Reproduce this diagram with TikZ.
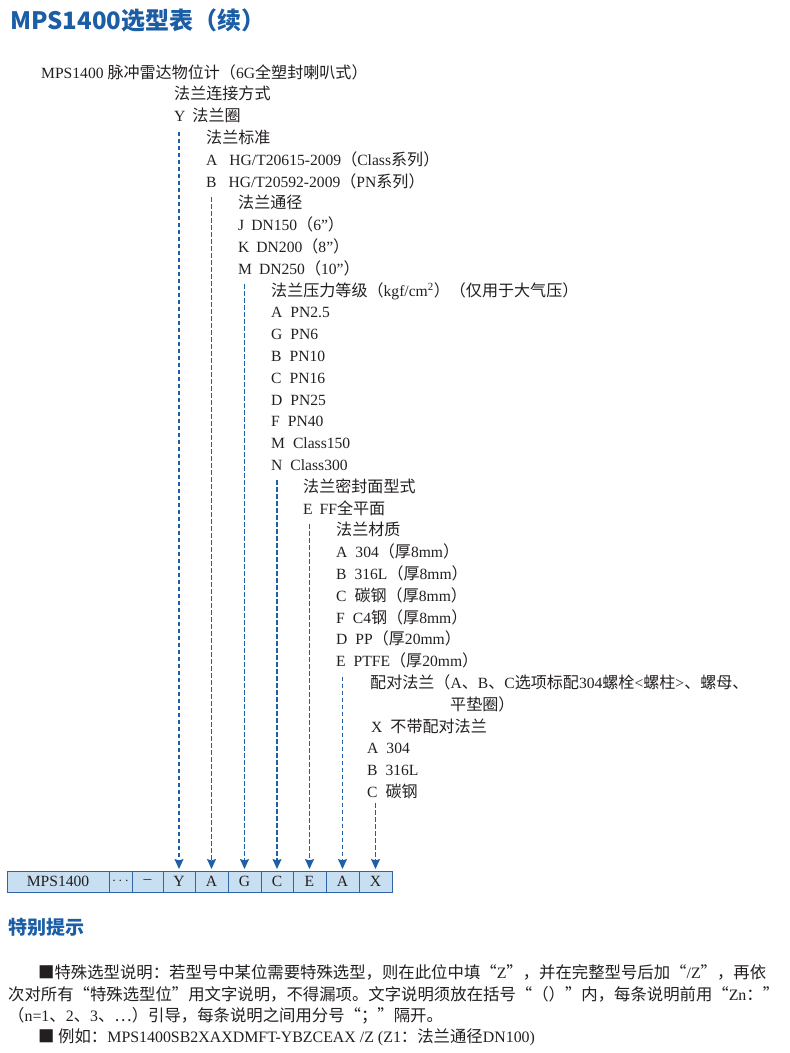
\documentclass[tikz,border=0pt]{standalone}
\usepackage{fontspec}
\setmainfont{Liberation Serif}
\newfontfamily\cjk[Scale=1.03]{Noto Sans CJK SC}
\newfontfamily\headfont{Noto Sans CJK SC}
\usetikzlibrary{arrows.meta, positioning}
\definecolor{titleblue}{HTML}{1B5EA6}
\definecolor{arrowblue}{HTML}{1F5FA8}
\definecolor{cellblue}{HTML}{C7DFF1}
\definecolor{cellline}{HTML}{2F65A6}
\definecolor{inkgray}{HTML}{231F20}
\newcommand{\zh}[1]{{\cjk #1}}

\begin{document}
\begin{tikzpicture}[x=1pt, y=1pt,
    line/.style={anchor=base west, inner sep=0pt, font=\fontsize{15.6}{18}\selectfont, text=inkgray},
    note/.style={anchor=base west, inner sep=0pt, font=\fontsize{15.9}{18}\selectfont, text=inkgray},
    head/.style={anchor=base west, inner sep=0pt, text=titleblue},
    cell/.style={draw=cellline, fill=cellblue, line width=0.9pt, minimum height=21pt, inner sep=0pt, outer sep=0pt, font=\fontsize{15.6}{18}\selectfont, text=inkgray},
    flow/.style={arrowblue, line width=1.5pt, dash pattern=on 4.5pt off 2.5pt, -{Stealth[length=10pt, width=9pt, inset=1.5pt]}, shorten >=2pt}
]
    \useasboundingbox (0,0) rectangle (790,-1053);

    % Title
    \node[head, font=\headfont\bfseries\fontsize{24}{28}\selectfont] (title) at (10,-29) {MPS1400选型表（续）};

    % Selection list
    \node[line] (model) at (41,-78) {MPS1400 \zh{脉冲雷达物位计（}6G\zh{全塑封喇叭式）}};
    \node[line] (conn) at (174,-99.8) {\zh{法兰连接方式}};
    \node[line] (optY) at (174,-121.6) {Y\hspace{7pt}\zh{法兰圈}};
    \node[line] (std) at (206,-143.4) {\zh{法兰标准}};
    \node[line] (stdA) at (206,-165.2) {A\hspace{12pt}HG/T20615-2009\zh{（}Class\zh{系列）}};
    \node[line] (stdB) at (206,-187) {B\hspace{12pt}HG/T20592-2009\zh{（}PN\zh{系列）}};
    \node[line] (dn) at (238,-208.8) {\zh{法兰通径}};
    \node[line] (dnJ) at (238,-230.6) {J\hspace{7pt}DN150\zh{（}6”\zh{）}};
    \node[line] (dnK) at (238,-252.4) {K\hspace{7pt}DN200\zh{（}8”\zh{）}};
    \node[line] (dnM) at (238,-274.2) {M\hspace{7pt}DN250\zh{（}10”\zh{）}};
    \node[line] (pn) at (271,-296) {\zh{法兰压力等级（}kgf/cm\textsuperscript{2}\zh{）（仅用于大气压）}};
    \node[line] (pnA) at (271,-317.8) {A\hspace{8pt}PN2.5};
    \node[line] (pnG) at (271,-339.6) {G\hspace{8pt}PN6};
    \node[line] (pnB) at (271,-361.4) {B\hspace{8pt}PN10};
    \node[line] (pnC) at (271,-383.2) {C\hspace{8pt}PN16};
    \node[line] (pnD) at (271,-405) {D\hspace{8pt}PN25};
    \node[line] (pnF) at (271,-426.8) {F\hspace{8pt}PN40};
    \node[line] (pnM) at (271,-448.6) {M\hspace{8pt}Class150};
    \node[line] (pnN) at (271,-470.4) {N\hspace{8pt}Class300};
    \node[line] (seal) at (303,-492.2) {\zh{法兰密封面型式}};
    \node[line] (sealE) at (303,-514) {E\hspace{7pt}FF\zh{全平面}};
    \node[line] (mat) at (336,-535.8) {\zh{法兰材质}};
    \node[line] (matA) at (336,-557.6) {A\hspace{8pt}304\zh{（厚}8mm\zh{）}};
    \node[line] (matB) at (336,-579.4) {B\hspace{8pt}316L\zh{（厚}8mm\zh{）}};
    \node[line] (matC) at (336,-601.2) {C\hspace{8pt}\zh{碳钢（厚}8mm\zh{）}};
    \node[line] (matF) at (336,-623) {F\hspace{8pt}C4\zh{钢（厚}8mm\zh{）}};
    \node[line] (matD) at (336,-644.8) {D\hspace{8pt}PP\zh{（厚}20mm\zh{）}};
    \node[line] (matE) at (336,-666.6) {E\hspace{8pt}PTFE\zh{（厚}20mm\zh{）}};
    \node[line] (pair) at (370,-688.4) {\zh{配对法兰（}A\zh{、}B\zh{、}C\zh{选项标配}304\zh{螺栓}<\zh{螺柱}>\zh{、螺母、}};
    \node[line] (pair2) at (450,-710.2) {\zh{平垫圈）}};
    \node[line] (pairX) at (371,-732) {X\hspace{8pt}\zh{不带配对法兰}};
    \node[line] (pairA) at (367,-753.8) {A\hspace{8pt}304};
    \node[line] (pairB) at (367,-775.6) {B\hspace{8pt}316L};
    \node[line] (pairC) at (367,-797.4) {C\hspace{8pt}\zh{碳钢}};

    % Model code cells
    \node[cell, minimum width=102pt, anchor=north west] (cellM) at (7,-871) {MPS1400};
    \node[cell, minimum width=23pt, right=0pt of cellM] (cellDots) {$\cdots$};
    \node[cell, minimum width=31pt, right=0pt of cellDots] (cellDash) {–};
    \node[cell, minimum width=32pt, right=0pt of cellDash] (cellY) {Y};
    \node[cell, minimum width=33pt, right=0pt of cellY] (cellA) {A};
    \node[cell, minimum width=33pt, right=0pt of cellA] (cellG) {G};
    \node[cell, minimum width=32pt, right=0pt of cellG] (cellC) {C};
    \node[cell, minimum width=33pt, right=0pt of cellC] (cellE) {E};
    \node[cell, minimum width=33pt, right=0pt of cellE] (cellMat) {A};
    \node[cell, minimum width=33pt, right=0pt of cellMat] (cellX) {X};

    % Arrows
    \draw[flow] ([yshift=-10pt]cellY.north |- optY.base) -- (cellY.north);
    \draw[flow] ([yshift=-10pt]cellA.north |- stdB.base) -- (cellA.north);
    \draw[flow] ([yshift=-10pt]cellG.north |- dnM.base) -- (cellG.north);
    \draw[flow] ([yshift=-10pt]cellC.north |- pnN.base) -- (cellC.north);
    \draw[flow] ([yshift=-10pt]cellE.north |- sealE.base) -- (cellE.north);
    \draw[flow] ([yshift=-10pt]cellMat.north |- matE.base) -- (cellMat.north);
    \draw[flow] ([yshift=-6pt]cellX.north |- pairC.base) -- (cellX.north);

    % Notes
    \node[head, font=\headfont\bfseries\fontsize{19}{22}\selectfont] (tip) at (8,-934) {特别提示};
    \node[note] (noteA) at (38,-978) {\zh{■特殊选型说明：若型号中某位需要特殊选型，则在此位中填“}Z\zh{”，并在完整型号后加“}/Z\zh{”，再依}};
    \node[note] (noteB) at (8,-1000) {\zh{次对所有“特殊选型位”用文字说明，不得漏项。文字说明须放在括号“（）”内，每条说明前用“}Zn\zh{：”}};
    \node[note] (noteC) at (8,-1021) {\zh{（}n=1\zh{、}2\zh{、}3\zh{、…）引导，每条说明之间用分号“；”隔开。}};
    \node[note] (noteD) at (38,-1042) {\zh{■ 例如：}MPS1400SB2XAXDMFT-YBZCEAX /Z (Z1\zh{：法兰通径}DN100)};
\end{tikzpicture}
\end{document}
